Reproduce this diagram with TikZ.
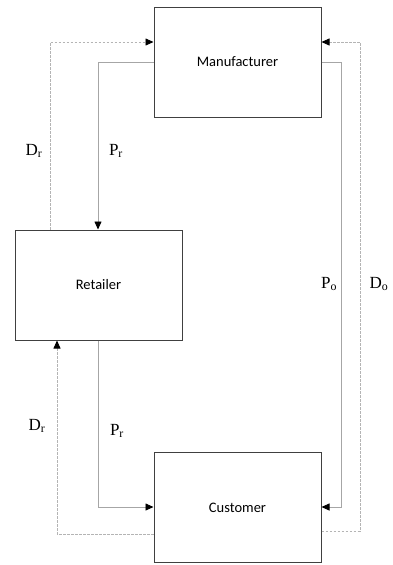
\documentclass[tikz,border=0pt]{standalone}
\usepackage{fontspec}
\setmainfont{Liberation Serif}
\newfontfamily\boxfont{Carlito}
\usetikzlibrary{arrows.meta}
\definecolor{boxline}{HTML}{404040}
\definecolor{solidline}{HTML}{A6A6A6}
\definecolor{dashline}{HTML}{B4B4B4}
\begin{document}
\begin{tikzpicture}[x=1pt,y=-1pt,
  entity/.style={draw=boxline,line width=1pt,minimum width=167pt,minimum height=110pt,inner sep=0pt,font=\boxfont\fontsize{14.5}{16}\selectfont},
  flow/.style={draw=solidline,line width=0.8pt,-{Triangle[length=8pt,width=7pt,fill=black,color=black]}},
  demand/.style={draw=dashline,line width=0.8pt,dash pattern=on 2.5pt off 1.5pt,-{Triangle[length=8pt,width=7pt,fill=black,color=black]}},
  lbl/.style={font=\fontsize{17}{19}\selectfont,inner sep=0pt}]
\useasboundingbox (0,0) rectangle (392,565);
\node[entity] (man) at (237.5,62) {Manufacturer};
\node[entity] (ret) at (98.5,285) {Retailer};
\node[entity] (cus) at (237.5,507.5) {Customer};
% coordinates
\coordinate (a1) at (50,42);
\coordinate (a2) at (98,62);
\coordinate (b1) at (341,62);
\coordinate (b2) at (341,507);
\coordinate (c1) at (360,531);
\coordinate (c2) at (360,42);
\coordinate (d1) at (98,507);
\coordinate (e1) at (57,534);
% connectors
\draw[demand] (ret.north -| a1) -- (a1) -- (a1 -| man.west);
\draw[flow] (man.west |- a2) -- (a2) -- (a2 |- ret.north);
\draw[flow] (man.east |- b1) -- (b1) -- (b2) -- (b2 -| cus.east);
\draw[demand] (cus.east |- c1) -- (c1) -- (c2) -- (c2 -| man.east);
\draw[flow] (ret.south -| d1) -- (d1) -- (d1 -| cus.west);
\draw[demand] (cus.west |- e1) -- (e1) -- (e1 |- ret.south);
% labels
\node[lbl] (l1) at (34,151) {D\textsubscript{r}};
\node[lbl] (l2) at (116,151) {P\textsubscript{r}};
\node[lbl] (l3) at (329,284) {P\textsubscript{o}};
\node[lbl] (l4) at (379,284) {D\textsubscript{o}};
\node[lbl] (l5) at (37,426) {D\textsubscript{r}};
\node[lbl] (l6) at (117,431) {P\textsubscript{r}};
\end{tikzpicture}
\end{document}
